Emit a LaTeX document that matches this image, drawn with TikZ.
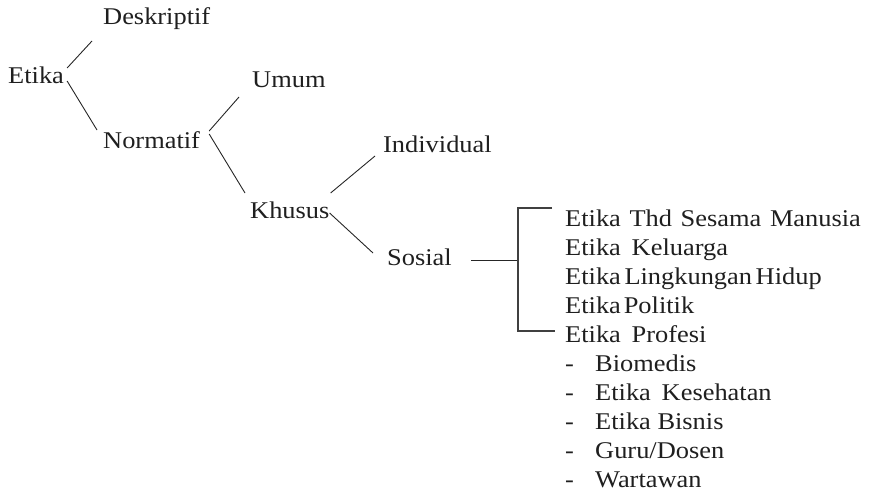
\documentclass[tikz,border=0pt]{standalone}
\usepackage{fontspec}
\setmainfont[FakeStretch=1.1]{Liberation Serif}
\usetikzlibrary{calc}
\begin{document}
\begin{tikzpicture}[x=1pt,y=-1pt,
  lbl/.style={anchor=base west,inner sep=0pt,text=black!88,font=\fontsize{24}{28}\selectfont},
  conn/.style={line width=0.9pt,black!85},
  brk/.style={line width=1.1pt,black!75}]
\useasboundingbox (0,0) rectangle (870,495);
\node[lbl] (etika) at (8,83) {Etika};
\node[lbl] (desk) at (103,25) {Deskriptif};
\node[lbl] (norm) at (103,148) {Normatif};
\node[lbl] (umum) at (252,88) {Umum};
\node[lbl] (khusus) at (250,218) {Khusus};
\node[lbl] (indiv) at (383,152) {Individual};
\node[lbl] (sosial) at (387,265) {Sosial};
\node[lbl] (l0) at (565,226.5) {Etika\hspace{0.36em}Thd\hspace{0.36em}Sesama\hspace{0.36em}Manusia};
\node[lbl] (l1) at (565,255.5) {Etika\hspace{0.45em}Keluarga};
\node[lbl] (l2) at (565,284.5) {Etika\hspace{0.15em}Lingkungan\hspace{0.15em}Hidup};
\node[lbl] (l3) at (565,313.5) {Etika\hspace{0.12em}Politik};
\node[lbl] (l4) at (565,342.5) {Etika\hspace{0.45em}Profesi};
\node[lbl] (d5) at (565,371.5) {-};
\node[lbl] (l5) at (595,371.5) {Biomedis};
\node[lbl] (d6) at (565,400.5) {-};
\node[lbl] (l6) at (595,400.5) {Etika\hspace{0.45em}Kesehatan};
\node[lbl] (d7) at (565,429.5) {-};
\node[lbl] (l7) at (595,429.5) {Etika Bisnis};
\node[lbl] (d8) at (565,458.5) {-};
\node[lbl] (l8) at (595,458.5) {Guru/Dosen};
\node[lbl] (d9) at (565,487.5) {-};
\node[lbl] (l9) at (595,487.5) {Wartawan};
% connectors
\draw[conn] ($(etika.base east)+(3,-15)$) -- ($(desk.base west)+(-11,16)$);
\draw[conn] ($(etika.base east)+(3,-2)$) -- ($(norm.base west)+(-6,-18)$);
\draw[conn] ($(norm.base east)+(9,-17)$) -- ($(umum.base west)+(-13,9)$);
\draw[conn] ($(norm.base east)+(9,-14)$) -- ($(khusus.base west)+(-5,-25)$);
\draw[conn] ($(khusus.base east)+(1,-25)$) -- ($(indiv.base west)+(-8,4)$);
\draw[conn] ($(khusus.base east)+(0,-5)$) -- ($(sosial.base west)+(-14,-12)$);
\coordinate (br) at ($(l0.base west)+(-47,0)$);
\coordinate (s1) at ($(sosial.base east)+(19,-5)$);
\draw[conn] (s1) -- (s1 -| br);
\draw[brk] ($(l0.base west)+(-13,-18.5)$) -| ($(l4.base west)+(-47,-11.5)$) -- ($(l4.base west)+(-10,-11.5)$);
\end{tikzpicture}
\end{document}
